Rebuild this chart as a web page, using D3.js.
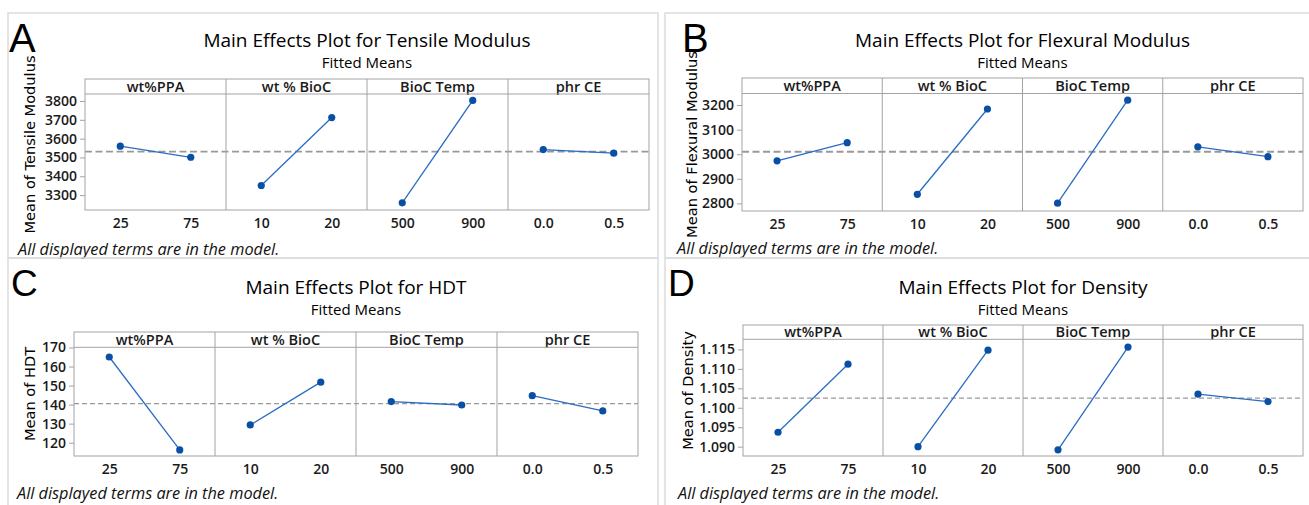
<!DOCTYPE html>
<html>
<head>
<meta charset="utf-8">
<script src="https://cdn.jsdelivr.net/npm/d3@7"></script>
<style>
    body { margin: 0; background: #fff; }
    svg { display: block; }
</style>
</head>
<body>
<svg id="chart" width="1309" height="505"></svg>
<script>
// factors and their two levels (same for every panel)
const factors = ["wt%PPA", "wt % BioC", "BioC Temp", "phr CE"]
const levels = [["25", "75"], ["10", "20"], ["500", "900"], ["0.0", "0.5"]]

// fitted means, one pair per factor
const tensileMeans = [[3560, 3501], [3351, 3712], [3259, 3803], [3542, 3523]]
const flexuralMeans = [[2973, 3047], [2837, 3184], [2801, 3220], [3030, 2990]]
const hdtMeans = [[165.0, 116.2], [129.3, 151.8], [141.6, 139.8], [144.7, 136.7]]
const densityMeans = [[1.0937, 1.1112], [1.0900, 1.1148], [1.0892, 1.1156], [1.1035, 1.1016]]

// grand means (dashed reference line)
const tensileGrand = 3531
const flexuralGrand = 3010
const hdtGrand = 140.5
const densityGrand = 1.1025

// y tick labels
const tensileTicks = [3300, 3400, 3500, 3600, 3700, 3800]
const flexuralTicks = [2800, 2900, 3000, 3100, 3200]
const hdtTicks = [120, 130, 140, 150, 160, 170]
const densityTicks = [1.090, 1.095, 1.100, 1.105, 1.110, 1.115]

// y axis ranges
const tensileDomain = [3221, 3837]
const flexuralDomain = [2769, 3247]
const hdtDomain = [113, 170.1]
const densityDomain = [1.0876, 1.1176]

const panels = [
    { letter: "A", title: "Main Effects Plot for Tensile Modulus", yLabel: "Mean of Tensile Modulus",
      values: tensileMeans, grand: tensileGrand, ticks: tensileTicks, domain: tensileDomain, fmt: "d",
      outer: [8, 13, 650, 245], letterPos: [9, 52, 40], left: 85, right: 649, headTop: 79, plotTop: 94, bottom: 210,
      titleY: 40, subY: 63, labelX: 30, footX: 18, footY: 249 },
    { letter: "B", title: "Main Effects Plot for Flexural Modulus", yLabel: "Mean of Flexural Modulus",
      values: flexuralMeans, grand: flexuralGrand, ticks: flexuralTicks, domain: flexuralDomain, fmt: "d",
      outer: [665, 13, 650, 245], letterPos: [682, 52, 40], left: 742, right: 1303, headTop: 78, plotTop: 93.5, bottom: 211,
      titleY: 40, subY: 63, labelX: 692, footX: 677, footY: 248 },
    { letter: "C", title: "Main Effects Plot for HDT", yLabel: "Mean of HDT",
      values: hdtMeans, grand: hdtGrand, ticks: hdtTicks, domain: hdtDomain, fmt: "d",
      outer: [8, 258, 650, 250], letterPos: [11, 296, 37], left: 74, right: 638, headTop: 332, plotTop: 347.3, bottom: 456,
      titleY: 287, subY: 310, labelX: 30, footX: 17, footY: 493 },
    { letter: "D", title: "Main Effects Plot for Density", yLabel: "Mean of Density",
      values: densityMeans, grand: densityGrand, ticks: densityTicks, domain: densityDomain, fmt: ".3f",
      outer: [665, 258, 650, 250], letterPos: [668, 296, 37], left: 743, right: 1303, headTop: 325, plotTop: 339.3, bottom: 456,
      titleY: 287, subY: 310, labelX: 688, footX: 678, footY: 493 }
]

const svg = d3.select("#chart")
const font = "'Open Sans', 'Noto Sans', sans-serif"
const frameColor = "#a3a3a3"
const lineColor = "#2a6cc4"
const dotColor = "#0a4fa6"

const drawPanel = (p) => {
    const g = svg.append("g")
    const paneW = (p.right - p.left) / factors.length
    const small = p.letter === "C" || p.letter === "D"

    // outer border of the sub figure
    g.append("rect")
        .attr("x", p.outer[0]).attr("y", p.outer[1])
        .attr("width", p.outer[2]).attr("height", p.outer[3])
        .attr("fill", "none")
        .attr("stroke", "#dcdcdc")
        .attr("stroke-width", 1.5)

    g.append("text")
        .attr("x", p.letterPos[0]).attr("y", p.letterPos[1])
        .style("font-family", "'Liberation Sans', Arial, sans-serif")
        .style("font-size", p.letterPos[2] + "px")
        .attr("fill", "#000")
        .text(p.letter)

    const cx = (p.left + p.right) / 2
    g.append("text")
        .attr("x", cx).attr("y", p.titleY).attr("dy", "0.35em")
        .attr("text-anchor", "middle")
        .style("font-family", font).style("font-size", "19px")
        .style("font-weight", 500)
        .attr("fill", "#000")
        .text(p.title)

    g.append("text")
        .attr("x", cx).attr("y", p.subY).attr("dy", "0.35em")
        .attr("text-anchor", "middle")
        .style("font-family", font).style("font-size", "15px")
        .style("font-weight", 500)
        .attr("fill", "#000")
        .text("Fitted Means")

    const y = d3.scaleLinear()
        .domain(p.domain)
        .range([p.bottom, p.plotTop])

    // y axis
    const yAxis = g.append("g")
        .attr("transform", `translate(${p.left},0)`)
        .call(d3.axisLeft(y).tickValues(p.ticks).tickSize(5).tickPadding(3).tickFormat(d3.format(p.fmt)))
    yAxis.select(".domain").remove()
    yAxis.selectAll("line").attr("stroke", frameColor)
    yAxis.selectAll("text")
        .style("font-family", font).style("font-size", "14px")
        .style("font-weight", 600)
        .attr("fill", "#1a1a1a")

    g.append("text")
        .attr("transform", `translate(${p.labelX},${(p.headTop + p.bottom) / 2}) rotate(-90)`)
        .attr("dy", "0.35em")
        .attr("text-anchor", "middle")
        .style("font-family", "'DejaVu Sans', Verdana, sans-serif")
        .style("font-size", "14.6px")
        .attr("fill", "#000")
        .text(p.yLabel)

    // dashed grand mean line
    g.append("line")
        .attr("x1", p.left).attr("x2", p.right)
        .attr("y1", y(p.grand)).attr("y2", y(p.grand))
        .attr("stroke", "#999")
        .attr("stroke-width", small ? 1.2 : 1.8)
        .attr("stroke-dasharray", small ? "5,3" : "7,3.5")

    factors.forEach((f, i) => {
        const x0 = p.left + i * paneW
        const x = d3.scalePoint()
            .domain(levels[i])
            .range([x0, x0 + paneW])
            .padding(0.5)

        const xAxis = g.append("g")
            .attr("transform", `translate(0,${p.bottom})`)
            .call(d3.axisBottom(x).tickSize(0).tickPadding(8))
        xAxis.select(".domain").remove()
        xAxis.selectAll("text")
            .style("font-family", font).style("font-size", "14px")
            .style("font-weight", 600)
            .attr("fill", "#1a1a1a")

        g.append("text")
            .attr("x", x0 + paneW / 2).attr("y", (p.headTop + p.plotTop) / 2)
            .attr("dy", "0.36em")
            .attr("text-anchor", "middle")
            .style("font-family", font).style("font-size", "14.5px")
            .style("font-weight", 600)
            .attr("fill", "#1a1a1a")
            .text(f)

        const data = levels[i].map((l, j) => ({ level: l, value: p.values[i][j] }))

        const line = d3.line()
            .x(d => x(d.level))
            .y(d => y(d.value))

        g.append("path")
            .datum(data)
            .attr("fill", "none")
            .attr("stroke", lineColor)
            .attr("stroke-width", 1.3)
            .attr("d", line)

        g.selectAll(null)
            .data(data)
            .enter()
            .append("circle")
            .attr("cx", d => x(d.level))
            .attr("cy", d => y(d.value))
            .attr("r", 3.6)
            .attr("fill", dotColor)

        if (i > 0) {
            g.append("line")
                .attr("x1", x0).attr("x2", x0)
                .attr("y1", p.headTop).attr("y2", p.bottom)
                .attr("stroke", frameColor)
        }
    })

    // header strip and plot frame
    g.append("rect")
        .attr("x", p.left).attr("y", p.headTop)
        .attr("width", p.right - p.left).attr("height", p.bottom - p.headTop)
        .attr("fill", "none").attr("stroke", frameColor)
    g.append("line")
        .attr("x1", p.left).attr("x2", p.right)
        .attr("y1", p.plotTop).attr("y2", p.plotTop)
        .attr("stroke", frameColor)

    g.append("text")
        .attr("x", p.footX).attr("y", p.footY).attr("dy", "0.35em")
        .style("font-family", font).style("font-size", "16.3px")
        .style("font-style", "italic")
        .attr("fill", "#111")
        .text("All displayed terms are in the model.")
}

panels.forEach(drawPanel)
</script>
</body>
</html>
